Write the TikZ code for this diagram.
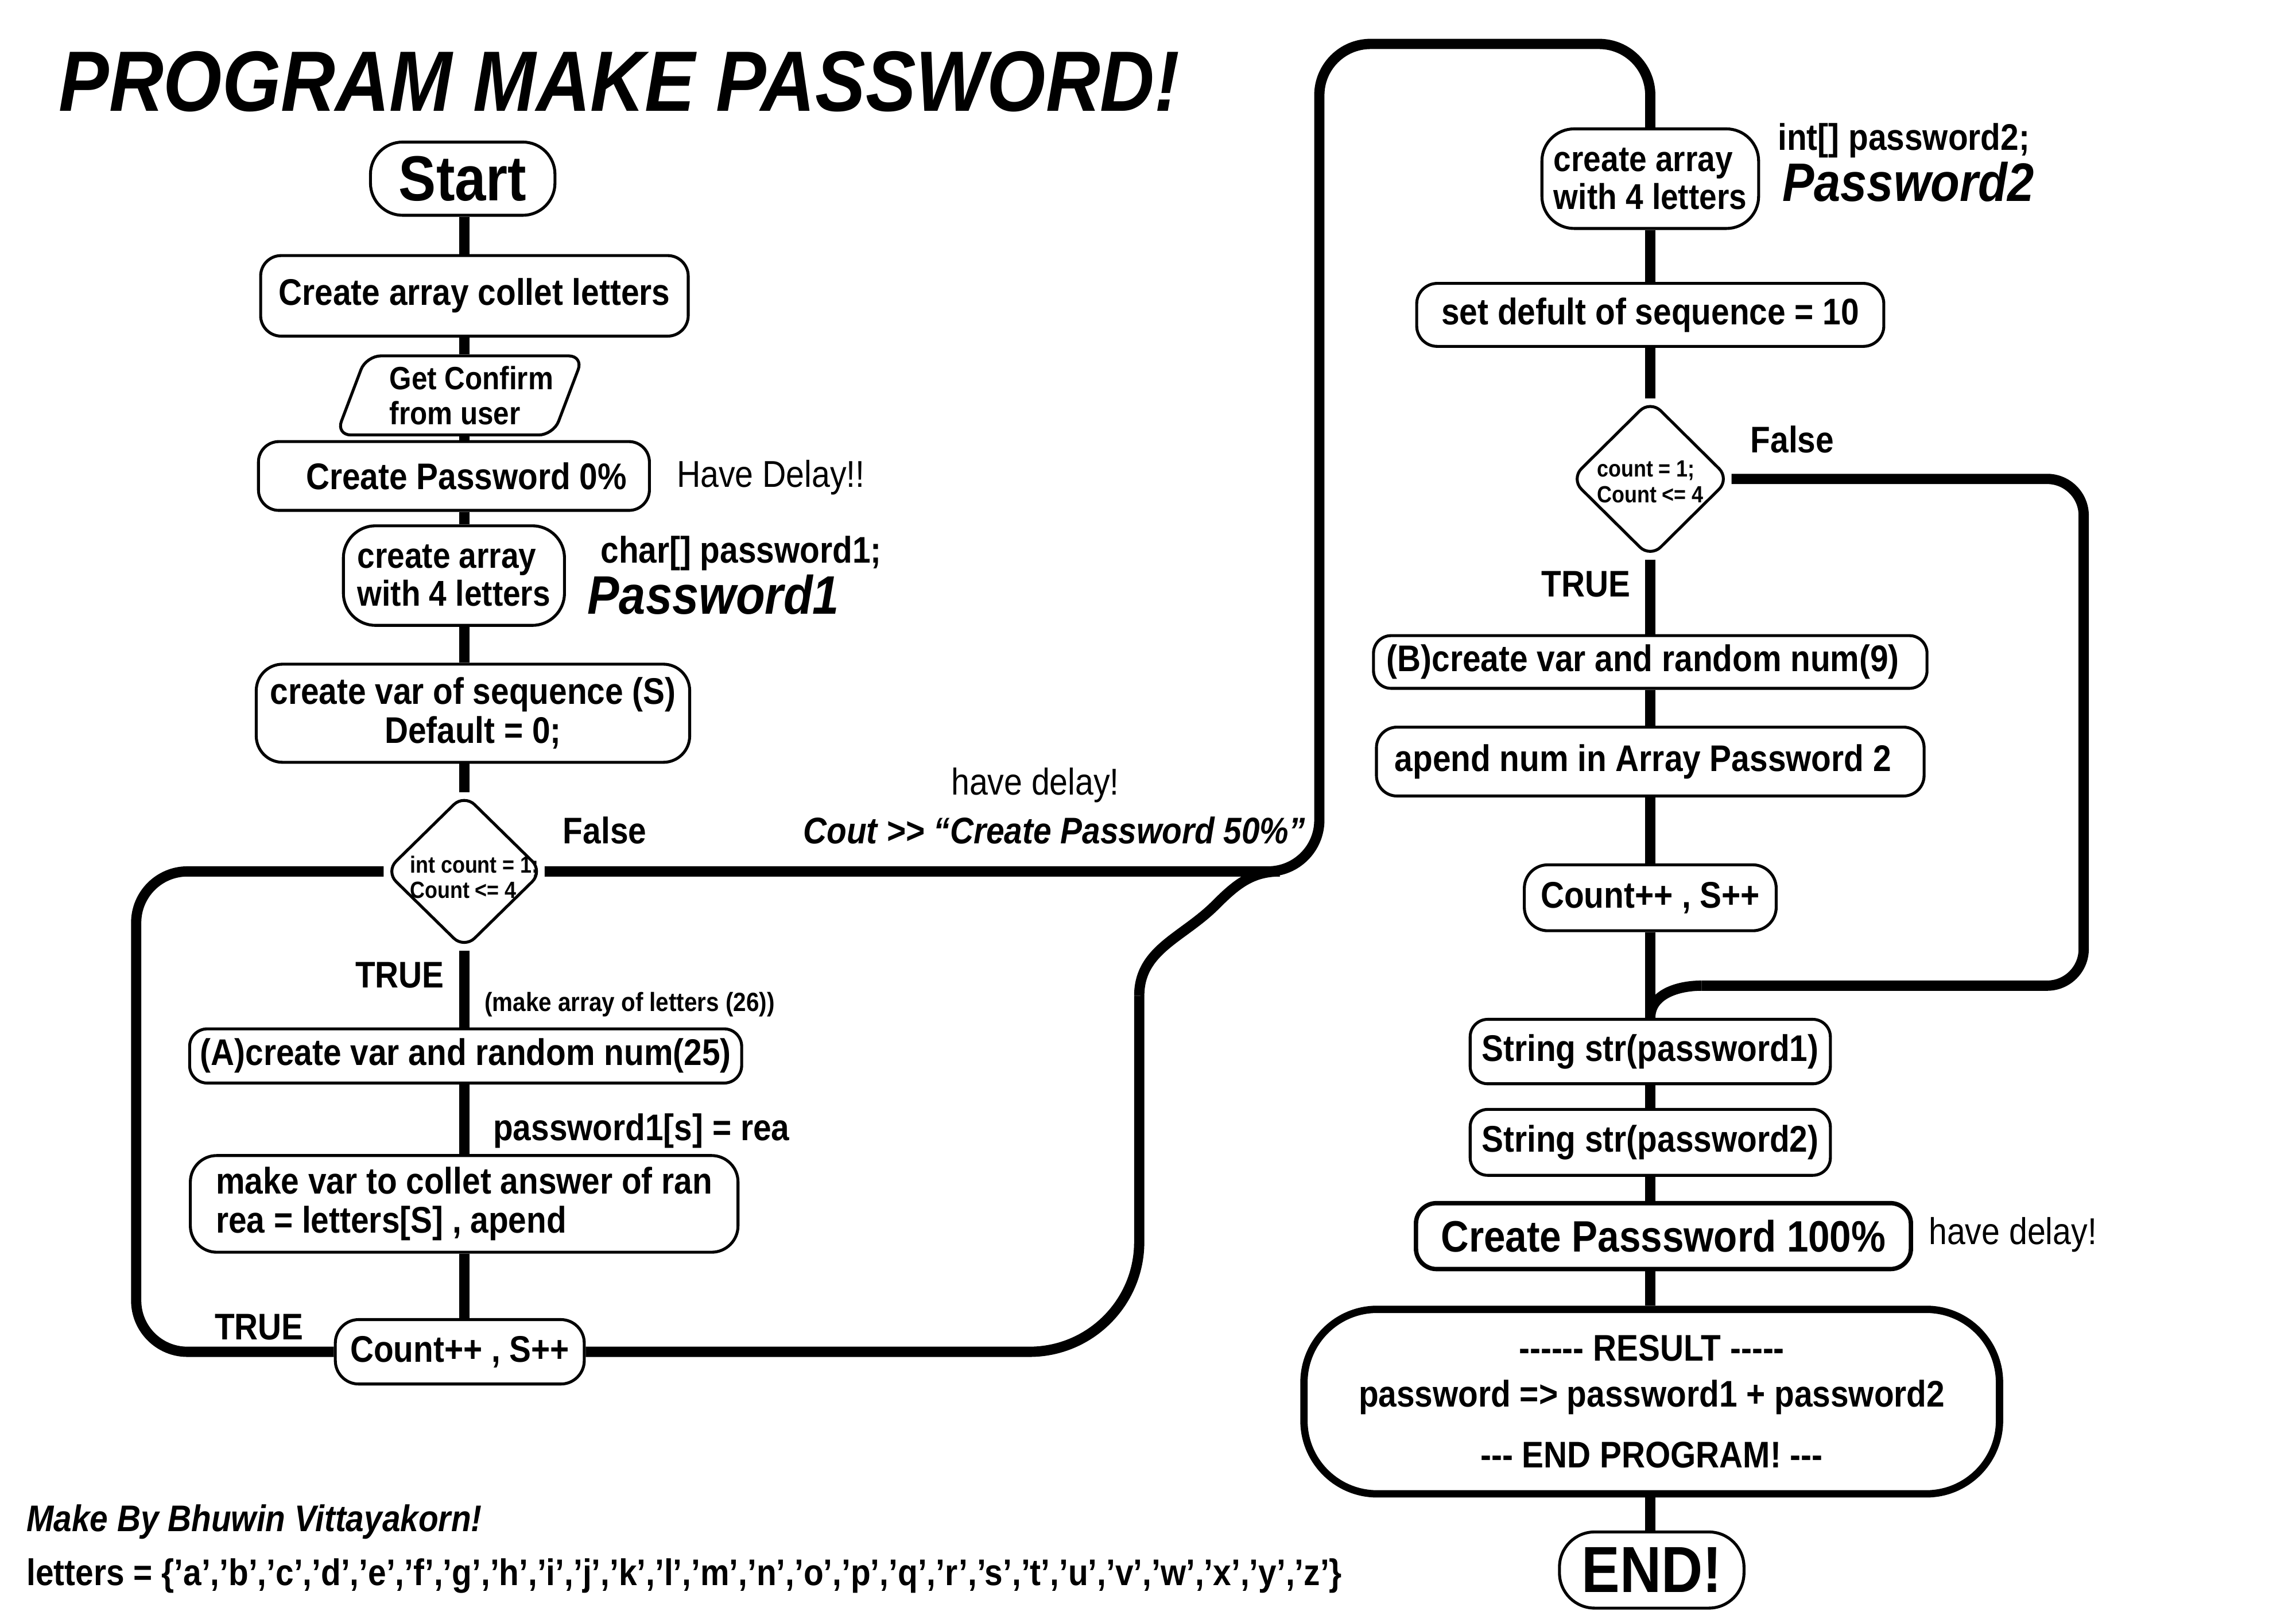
\documentclass[tikz,border=0pt]{standalone}
\usepackage{fontspec}
\setmainfont{Liberation Sans}[FakeStretch=0.88,Ligatures=TeXOff]
\usetikzlibrary{shapes.geometric}

\newcommand{\txtsize}{\fontsize{25.3}{26.5}\selectfont}
\newcommand{\arrsize}{\fontsize{24.5}{26}\selectfont}
\newcommand{\bigsize}{\fontsize{43.5}{45}\selectfont}

\tikzset{
  procbox/.style={draw, line width=2pt, rounded corners=14pt, fill=white,
    inner sep=0pt, align=center, font=\txtsize\bfseries},
  termbox/.style={procbox, rounded corners=22pt, font=\bigsize\bfseries},
  decision/.style={draw, diamond, line width=2pt, rounded corners=10pt, fill=white,
    inner sep=0pt, minimum width=108pt, minimum height=106pt},
  condtext/.style={align=left, inner sep=0pt, font=\fontsize{16}{17.5}\selectfont\bfseries},
  iobox/.style={draw, trapezium, trapezium left angle=63, trapezium right angle=117,
    trapezium stretches=true, line width=2pt, rounded corners=10pt, fill=white,
    inner sep=0pt, align=left, font=\fontsize{22}{24}\selectfont\bfseries},
  lbl/.style={inner sep=0pt, font=\txtsize\bfseries},
  note/.style={inner sep=0pt, font=\fontsize{25.5}{27}\selectfont},
  hint/.style={inner sep=0pt, font=\fontsize{18}{20}\selectfont\bfseries},
  flow/.style={line width=7pt},
  loopline/.style={line width=7pt, rounded corners=35pt}
}

\begin{document}
\begin{tikzpicture}[x=1pt,y=-1pt]
  \useasboundingbox (0,0) rectangle (1568,1108);
  \coordinate (colL) at (317,0);
  \coordinate (colR) at (1127,0);

  % title
  \node[inner sep=0pt, anchor=base west, font=\fontsize{58.5}{60}\selectfont\bfseries\itshape] (title) at (40,76) {PROGRAM MAKE PASSWORD!};

  % left column: password1
  \node[termbox, minimum width=126pt, minimum height=50pt] (start) at (316,122) {Start};
  \node[procbox, minimum width=292pt, minimum height=55pt] (letters) at (324,202) {Create array collet letters};
  \node[iobox, minimum width=168pt, minimum height=54pt] (confirm) at (314,270) {\hspace*{16pt}Get Confirm\\\hspace*{16pt}from user};
  \node[procbox, minimum width=267pt, minimum height=47pt] (pwzero) at (310,325) {\hspace*{17pt}Create Password 0\%};
  \node[procbox, rounded corners=22pt, align=left, font=\arrsize\bfseries, minimum width=151pt, minimum height=68pt] (arrone) at (310,393) {create array\\with 4 letters};
  \node[procbox, rounded corners=18pt, minimum width=296pt, minimum height=67pt] (seq) at (323,487) {create var of sequence (S)\\Default = 0;};
  \node[decision] (decone) at (317,595) {};
  \node[procbox, rounded corners=12pt, minimum width=377pt, minimum height=37pt] (randa) at (318,721) {(A)create var and random num(25)};
  \node[procbox, rounded corners=18pt, align=left, minimum width=374pt, minimum height=66pt] (makevar) at (317,822) {make var to collet answer of ran\\rea = letters[S] , apend};
  \node[procbox, rounded corners=16pt, minimum width=170pt, minimum height=44pt] (countone) at (314,923) {Count++ , S++};

  % right column: password2
  \node[procbox, rounded corners=22pt, align=left, font=\arrsize\bfseries, minimum width=148pt, minimum height=68pt] (arrtwo) at (1127,122) {create array\\with 4 letters};
  \node[procbox, minimum width=319pt, minimum height=43pt] (seqtwo) at (1127,215) {set defult of sequence = 10};
  \node[decision, minimum width=109pt, minimum height=108pt] (dectwo) at (1127,327) {};
  \node[procbox, rounded corners=12pt, minimum width=378pt, minimum height=36pt] (randb) at (1127,452) {(B)create var and random num(9)\hspace*{10pt}};
  \node[procbox, minimum width=374pt, minimum height=47pt] (append) at (1127,520) {apend num in Array Password 2\hspace*{10pt}};
  \node[procbox, rounded corners=16pt, minimum width=172pt, minimum height=45pt] (counttwo) at (1127,613) {Count++ , S++};
  \node[procbox, rounded corners=12pt, minimum width=246pt, minimum height=44pt] (strone) at (1127,718) {String str(password1)};
  \node[procbox, rounded corners=12pt, minimum width=246pt, minimum height=45pt] (strtwo) at (1127,780) {String str(password2)};
  \node[procbox, line width=3pt, minimum width=338pt, minimum height=45pt, font=\fontsize{30}{32}\selectfont\bfseries] (pwfull) at (1136,844) {Create Passsword 100\%};
  \node[procbox, line width=5pt, rounded corners=50pt, minimum width=475pt, minimum height=126pt] (result) at (1128,957)
    {------ RESULT -----\\[5pt]password => password1 + password2\\[15pt]--- END PROGRAM! ---};
  \node[termbox, rounded corners=24pt, minimum width=126pt, minimum height=52pt, font=\fontsize{44.5}{46}\selectfont\bfseries] (finish) at (1128,1072) {END!};

  % straight connectors
  \foreach \a/\b in {start/letters, letters/confirm, confirm/pwzero, pwzero/arrone, arrone/seq,
                     seq/decone, decone/randa, randa/makevar, makevar/countone}
    \draw[flow] (colL |- \a.south) -- (colL |- \b.north);
  \foreach \a/\b in {arrtwo/seqtwo, seqtwo/dectwo, dectwo/randb, randb/append, append/counttwo,
                     counttwo/strone, strone/strtwo, strtwo/pwfull, pwfull/result, result/finish}
    \draw[flow] (colR |- \a.south) -- (colR |- \b.north);

  % loops
  \coordinate (loopL) at (93,0);
  \coordinate (bigtop) at (901,30);
  \coordinate (bend) at (778,680);
  \coordinate (diag) at (830,618);
  \coordinate (join) at (874,595);
  \coordinate (loopR) at (1423,673);
  \coordinate (tail) at (1162,673);
  \draw[loopline] (countone.west) -| (loopL |- decone.west) -- (decone.west);
  \draw[loopline] (decone.east) -| (bigtop) -| (arrtwo.north);
  \draw[loopline, rounded corners=75pt] (countone.east) -| (bend);
  \draw[loopline, sharp corners] (bend) to[out=90,in=225] (diag) to[out=45,in=180] (join);
  \draw[loopline, rounded corners=25pt] (dectwo.east) -| (loopR) -- (tail);
  \draw[loopline, sharp corners] (tail) to[out=180,in=90] (colR |- strone.north);

  % conditions
  \node[condtext] (condone) at (324,599) {int count = 1;\\Count <= 4};
  \node[condtext] (condtwo) at (1127,329) {count = 1;\\Count <= 4};

  % labels
  \node[note, anchor=west] (delayzero) at (462,326) {Have Delay!!};
  \node[lbl, anchor=west] (declone) at (410,378) {char[] password1;};
  \node[inner sep=0pt, anchor=west, font=\fontsize{37}{39}\selectfont\bfseries\itshape] (nameone) at (401,406) {Password1};
  \node[lbl] (falseone) at (413,567) {False};
  \node[lbl] (trueone) at (273,666) {TRUE};
  \node[hint] (hintone) at (430,686) {(make array of letters (26))};
  \node[lbl] (assign) at (438,772) {password1[s] = rea};
  \node[lbl] (truetwo) at (177,906) {TRUE};
  \node[note] (delayhalf) at (707,536) {have delay!};
  \node[lbl, font=\txtsize\bfseries\itshape] (couthalf) at (720,567) {Cout >> “Create Password 50\%”};
  \node[lbl, anchor=west] (decltwo) at (1214,96) {int[] password2;};
  \node[inner sep=0pt, anchor=west, font=\fontsize{37}{39}\selectfont\bfseries\itshape] (nametwo) at (1217,124) {Password2};
  \node[lbl] (falsetwo) at (1224,300) {False};
  \node[lbl] (truethree) at (1083,399) {TRUE};
  \node[note, anchor=west] (delayfull) at (1317,843) {have delay!};
  \node[lbl, anchor=west, font=\txtsize\bfseries\itshape] (author) at (18,1039) {Make By Bhuwin Vittayakorn!};
  \node[lbl, anchor=west] (alphabet) at (18,1076) {letters = \{’a’,’b’,’c’,’d’,’e’,’f’,’g’,’h’,’i’,’j’,’k’,’l’,’m’,’n’,’o’,’p’,’q’,’r’,’s’,’t’,’u’,’v’,’w’,’x’,’y’,’z’\}};
\end{tikzpicture}
\end{document}
